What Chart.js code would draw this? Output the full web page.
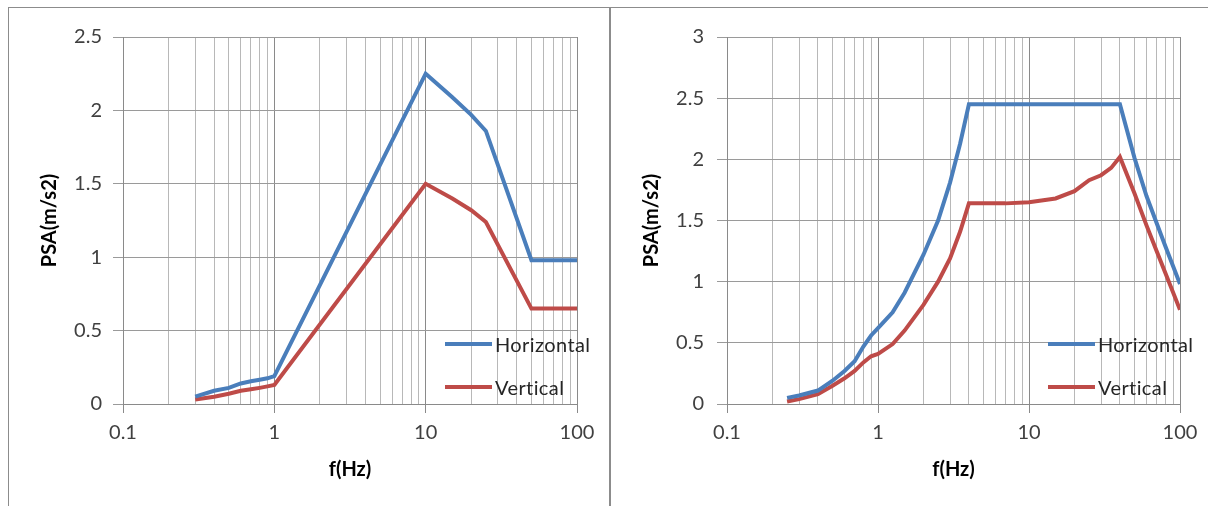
<!DOCTYPE html>
<html>
<head>
<meta charset="utf-8">
<script src="https://cdn.jsdelivr.net/npm/chart.js@4.4.0/dist/chart.umd.min.js"></script>
<style>
body { margin: 0; background: #fff; width: 1208px; height: 506px; overflow: hidden; position: relative; }
#frame { position: absolute; left: 8px; top: 7px; width: 1200px; height: 499px; border-left: 1px solid #8c8c8c; border-top: 1px solid #8c8c8c; }
#sep { position: absolute; left: 609px; top: 7px; width: 2px; height: 499px; background: #8c8c8c; }
canvas { position: absolute; }
.legend { position: absolute; font: 20px Lato, sans-serif; color: #262626; letter-spacing: 0.4px; }
.legend .row { display: flex; align-items: center; height: 43px; }
.legend .sw { display: inline-block; width: 47px; height: 4px; margin-right: 3px; }
</style>
</head>
<body>
<div id="frame"></div>
<div id="sep"></div>
<canvas id="leftChart" width="598" height="498" style="left:9px;top:8px"></canvas>
<canvas id="rightChart" width="596" height="498" style="left:612px;top:8px"></canvas>
<div id="leftLegend" class="legend" style="left:445px;top:322px"></div>
<div id="rightLegend" class="legend" style="left:1048px;top:322px"></div>
<script>
"use strict";

// left spectrum
var fLeft   = [0.3, 0.4, 0.5, 0.6, 0.7, 0.8, 0.9, 1, 10, 15, 20, 25, 50, 100];
var horLeft = [0.05, 0.09, 0.11, 0.14, 0.155, 0.165, 0.175, 0.19, 2.25, 2.09, 1.97, 1.86, 0.98, 0.98];
var verLeft = [0.03, 0.05, 0.07, 0.09, 0.10, 0.11, 0.12, 0.13, 1.50, 1.40, 1.32, 1.24, 0.65, 0.65];

// right spectrum
var fRight   = [0.25, 0.3, 0.4, 0.5, 0.6, 0.7, 0.8, 0.9, 1, 1.25, 1.5, 2, 2.5, 3, 3.5, 4,
                5, 7, 10, 15, 20, 25, 30, 35, 40, 50, 60, 70, 80, 100];
var horRight = [0.05, 0.07, 0.11, 0.19, 0.27, 0.35, 0.47, 0.56, 0.62, 0.75, 0.91, 1.22, 1.50, 1.81, 2.13, 2.45,
                2.45, 2.45, 2.45, 2.45, 2.45, 2.45, 2.45, 2.45, 2.45, 2.01, 1.70, 1.48, 1.29, 0.98];
var verRight = [0.02, 0.04, 0.08, 0.15, 0.21, 0.27, 0.34, 0.39, 0.41, 0.49, 0.60, 0.81, 1.00, 1.19, 1.41, 1.64,
                1.64, 1.64, 1.65, 1.68, 1.74, 1.83, 1.87, 1.93, 2.02, 1.72, 1.46, 1.25, 1.07, 0.77];

var seriesNames  = ['Horizontal', 'Vertical'];
var seriesColors = ['#4a7ebb', '#be4b48'];

var xDecades    = [0.1, 1, 10, 100];
var xTickLabels = ['0.1', '1', '10', '100'];
var xTitle = 'f(Hz)';
var yTitle = 'PSA(m/s2)';

// gridlines 1..9 in every decade, labels only on the decades
var gridTicks = [];
for (var d = 0; d < xDecades.length - 1; d++) {
    for (var m = 1; m <= 9; m++) {
        gridTicks.push({ value: xDecades[d] * m, label: m === 1 ? xTickLabels[d] : '' });
    }
}
gridTicks.push({ value: xDecades[xDecades.length - 1], label: xTickLabels[xTickLabels.length - 1] });

function points(xs, ys) {
    return xs.map(function (x, i) { return { x: x, y: ys[i] }; });
}

function makeChart(id, xs, hor, ver, yMax, yAxisWidth, yTitlePad, yTickPad, rightPad) {
    var ctx = document.getElementById(id).getContext('2d');
    var font = { family: 'Lato', size: 20 };
    return new Chart(ctx, {
        type: 'line',
        data: {
            datasets: [hor, ver].map(function (ys, i) {
                return {
                    label: seriesNames[i],
                    data: points(xs, ys),
                    borderColor: seriesColors[i],
                    backgroundColor: seriesColors[i],
                    borderWidth: 4,
                    pointRadius: 0,
                    tension: 0,
                    fill: false
                };
            })
        },
        options: {
            responsive: false,
            animation: false,
            layout: { padding: { top: 29, right: rightPad, bottom: 0, left: 0 } },
            plugins: { legend: { display: false }, tooltip: { enabled: false } },
            scales: {
                x: {
                    type: 'logarithmic',
                    min: 0.1,
                    max: 100,
                    afterBuildTicks: function (scale) {
                        scale.ticks = gridTicks.map(function (t) { return { value: t.value }; });
                    },
                    afterFit: function (scale) { scale.height = 102; },
                    border: { color: '#8a8a8a' },
                    grid: {
                        tickLength: 9,
                        color: function (c) {
                            return c.tick && gridTicks[c.index] && gridTicks[c.index].label ? '#8a8a8a' : '#b8b8b8';
                        },
                        tickColor: function (c) {
                            return gridTicks[c.index] && gridTicks[c.index].label ? '#8a8a8a' : 'rgba(0,0,0,0)';
                        }
                    },
                    ticks: {
                        autoSkip: false,
                        maxRotation: 0,
                        minRotation: 0,
                        padding: 8,
                        color: '#404040',
                        font: font,
                        callback: function (value, index) { return gridTicks[index].label; }
                    },
                    title: {
                        display: true,
                        text: xTitle,
                        color: '#000',
                        font: { family: 'Lato', size: 20, weight: 'bold' },
                        padding: { top: 0, bottom: 24 }
                    }
                },
                y: {
                    min: 0,
                    max: yMax,
                    afterFit: function (scale) { scale.width = yAxisWidth; },
                    border: { color: '#8a8a8a' },
                    grid: { color: '#9a9a9a', tickLength: 10, tickColor: '#9a9a9a' },
                    ticks: {
                        stepSize: 0.5,
                        padding: yTickPad,
                        color: '#404040',
                        font: font,
                        callback: function (value) { return String(value); }
                    },
                    title: {
                        display: true,
                        text: yTitle,
                        color: '#000',
                        font: { family: 'Lato', size: 20, weight: 'bold' },
                        padding: { top: yTitlePad, bottom: 0 }
                    }
                }
            }
        }
    });
}

function makeLegend(chart, id) {
    var html = chart.data.datasets.map(function (ds) {
        return '<div class="row"><span class="sw" style="background:' + ds.borderColor + '"></span>' + ds.label + '</div>';
    }).join('');
    document.getElementById(id).innerHTML = html;
}

var leftChart  = makeChart('leftChart',  fLeft,  horLeft,  verLeft,  2.5, 114, 29, 11, 30);
var rightChart = makeChart('rightChart', fRight, horRight, verRight, 3,   115, 28, 13, 28);

makeLegend(leftChart, 'leftLegend');
makeLegend(rightChart, 'rightLegend');
</script>
</body>
</html>
